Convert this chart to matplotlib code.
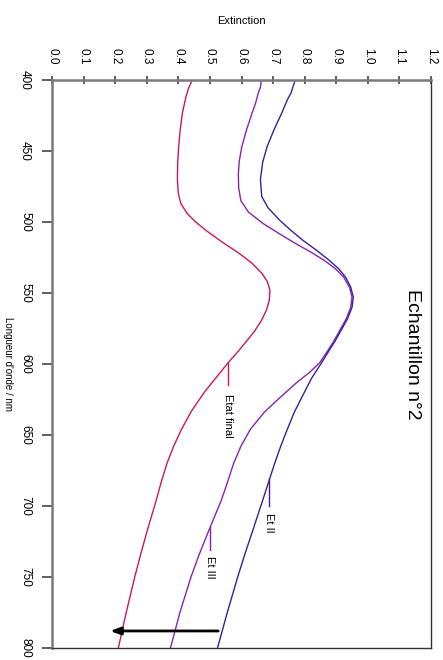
import matplotlib
matplotlib.use("Agg")
import matplotlib.pyplot as plt

plt.rcParams["font.family"] = ["Liberation Sans", "DejaVu Sans"]

# spectra (wavelength nm, extinction)
wl_final = [400, 406, 412, 418, 423, 435, 447, 458, 470, 480, 487, 494, 500, 506, 514, 522, 529,
            536, 542, 548, 555, 562, 569, 577, 585, 592, 599, 610, 620, 633, 646, 658, 670, 683,
            696, 717, 733, 750, 775, 800]
ext_final = [0.444, 0.432, 0.424, 0.418, 0.413, 0.406, 0.401, 0.398, 0.397, 0.400, 0.408, 0.428,
             0.455, 0.488, 0.538, 0.592, 0.633, 0.664, 0.682, 0.690, 0.688, 0.679, 0.664, 0.641,
             0.612, 0.586, 0.558, 0.518, 0.482, 0.442, 0.410, 0.385, 0.364, 0.346, 0.330, 0.302,
             0.282, 0.262, 0.235, 0.210]

wl_et3 = [400, 405, 410, 416, 423, 435, 447, 457, 466, 476, 485, 493, 501, 508, 515, 521, 527, 533,
          539, 546, 553, 560, 568, 576, 584, 591, 599, 606, 613, 623, 634, 646, 658, 670, 683, 696,
          717, 733, 750, 775, 800]
ext_et3 = [0.663, 0.660, 0.652, 0.645, 0.634, 0.616, 0.601, 0.593, 0.590, 0.591, 0.598, 0.622,
           0.668, 0.718, 0.770, 0.818, 0.862, 0.898, 0.924, 0.942, 0.950, 0.946, 0.932, 0.912,
           0.892, 0.872, 0.848, 0.815, 0.775, 0.725, 0.672, 0.628, 0.598, 0.575, 0.556, 0.536,
           0.497, 0.468, 0.440, 0.405, 0.375]

wl_et2 = [400, 404, 409, 414, 423, 435, 447, 458, 470, 482, 490, 499, 506, 513, 520, 527, 533, 539,
          546, 553, 560, 568, 576, 584, 591, 599, 610, 623, 634, 646, 658, 670, 683, 696, 717, 733,
          750, 775, 800]
ext_et2 = [0.770, 0.764, 0.757, 0.745, 0.728, 0.703, 0.681, 0.667, 0.660, 0.664, 0.684, 0.722,
           0.757, 0.795, 0.838, 0.878, 0.908, 0.930, 0.946, 0.954, 0.950, 0.936, 0.916, 0.896,
           0.876, 0.854, 0.822, 0.792, 0.767, 0.745, 0.724, 0.705, 0.686, 0.667, 0.636, 0.612,
           0.588, 0.555, 0.524]

# name, wavelengths, values, colour, leader x, leader start, leader length, text top
curves = [
    ("Etat final", wl_final, ext_final, "#d0155c", 0.558, 599, 16, 621),
    ("Et III", wl_et3, ext_et3, "#8a22b0", 0.50, 715, 16, 735),
    ("Et II", wl_et2, ext_et2, "#3b1f9e", 0.688, 681, 19, 705),
]

x_ticks = [round(0.1 * i, 1) for i in range(13)]
y_ticks = [400, 450, 500, 550, 600, 650, 700, 750, 800]

fig = plt.figure(figsize=(4.43, 6.6), dpi=100)
ax = fig.add_axes([52 / 443, 1 - 648 / 660, 379 / 443, 568 / 660])

for name, wl, ext, col, lx, ly, llen, ty in curves:
    ax.plot(ext, wl, color=col, lw=1.0)
    ax.plot([lx, lx], [ly, ly + llen], color=col, lw=1.0)
    ax.text(lx, ty, name, rotation=-90, ha="center", va="top", fontsize=8)

# shift arrow at 788 nm
ax.annotate("", xy=(0.175, 788), xytext=(0.535, 788),
            arrowprops=dict(arrowstyle="-|>,head_length=0.6,head_width=0.22", color="black", lw=2))

ax.text(1.14, 593, "Echantillon n°2", rotation=-90, ha="center", va="center", fontsize=14)

ax.set_xlim(0, 1.2)
ax.set_ylim(800, 400)
ax.xaxis.tick_top()
ax.xaxis.set_label_position("top")
ax.set_xticks(x_ticks)
ax.set_xticklabels([f"{v:.1f}" for v in x_ticks], rotation=-90, fontsize=8.5)
ax.set_yticks(y_ticks)
ax.set_yticklabels([str(v) for v in y_ticks], rotation=-90, fontsize=8.5, va="center")
ax.tick_params(axis="x", direction="inout", length=6, width=1.2, pad=8, color="#444444")
ax.tick_params(axis="y", direction="out", length=7, width=1.2, pad=8, color="#444444")

ax.set_xlabel("Extinction", fontsize=8)
ax.set_ylabel("Longueur d'onde / nm", fontsize=7, rotation=-90, va="center")
ax.yaxis.set_label_coords(-44 / 379, 0.5)
ax.xaxis.set_label_coords(0.5, 1 + 56 / 568)

for s in ["left", "top"]:
    ax.spines[s].set_color("#7a7a7a")
    ax.spines[s].set_linewidth(1.8)
for s in ["right", "bottom"]:
    ax.spines[s].set_color("#333333")
    ax.spines[s].set_linewidth(1.0)

fig.savefig("out.png", dpi=100)
